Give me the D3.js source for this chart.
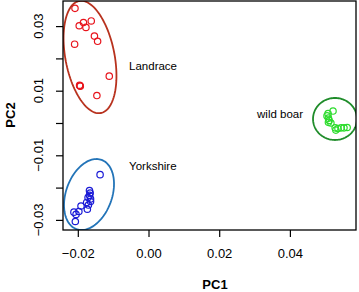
<!DOCTYPE html>
<html>
<head>
<meta charset="utf-8">
<script src="https://cdn.jsdelivr.net/npm/d3@7"></script>
<style>
  body { margin: 0; background: #fff; }
  text { font-family: "Liberation Sans", Arial, sans-serif; }
</style>
</head>
<body>
<div id="chart"></div>
<script>
// PCA coordinates
var landraceX = [-0.0208, -0.0196, -0.0184, -0.0177, -0.0162, -0.0153, -0.0144, -0.0209, -0.0111, -0.0194, -0.0195, -0.0193, -0.0146];
var landraceY = [0.0355, 0.0301, 0.0311, 0.0296, 0.0316, 0.0269, 0.0253, 0.0244, 0.0145, 0.0115, 0.0117, 0.0114, 0.0085];

var yorkshireX = [-0.0137, -0.0167, -0.0165, -0.0167, -0.0171, -0.0164, -0.0164, -0.0175, -0.0170, -0.0173, -0.0191, -0.0197, -0.0211, -0.0205, -0.0207];
var yorkshireY = [-0.0160, -0.0209, -0.0217, -0.0224, -0.0231, -0.0235, -0.0243, -0.0246, -0.0254, -0.0267, -0.0257, -0.0274, -0.0276, -0.0283, -0.0305];

var boarX = [0.0522, 0.0508, 0.0505, 0.0509, 0.0511, 0.0509, 0.0516, 0.0528, 0.0536, 0.0545, 0.0553, 0.0562, 0.0530];
var boarY = [0.0037, 0.0029, 0.0022, 0.0015, 0.0008, 0.0002, 0.0000, -0.0015, -0.0017, -0.0015, -0.0015, -0.0014, -0.0022];

var groupNames = ["Landrace", "Yorkshire", "wild boar"];
// ellipse: centre, then the two half-axis vectors (data units)
var ellipseCentre = [[-0.01655, 0.02043], [-0.01683, -0.02214], [0.05276, 0.00124]];
var ellipseAxisA = [[0.00308, -0.01734], [0.00356, 0.01071], [0.00622, 0]];
var ellipseAxisB = [[0.00682, 0.00146], [0.00611, -0.00245], [0, 0.0065]];
var labelPos = [[-0.0055, 0.0163], [-0.0055, -0.0146], [0.0307, 0.0017]];

var xTicks = [-0.02, 0.00, 0.02, 0.04];
var yTicks = [-0.03, -0.02, -0.01, 0.00, 0.01, 0.02, 0.03];
var yTickLabels = [-0.03, -0.01, 0.01, 0.03];

var pointColors = ["#e8141c", "#1a1ad6", "#2ddc2d"];
var ellipseColors = ["#b8321e", "#2374b8", "#1f8c2a"];

var width = 359, height = 292;
var margin = {top: 1, right: 3, bottom: 62, left: 63};

var svg = d3.select("#chart")
    .append("svg")
    .attr("width", width)
    .attr("height", height);

var x = d3.scaleLinear()
    .domain([-0.02419, 0.0587])
    .range([margin.left, width - margin.right]);

var y = d3.scaleLinear()
    .domain([-0.03313, 0.03777])
    .range([height - margin.bottom, margin.top]);

svg.append("clipPath")
    .attr("id", "plotclip")
    .append("rect")
    .attr("x", margin.left)
    .attr("y", margin.top)
    .attr("width", width - margin.right - margin.left)
    .attr("height", height - margin.bottom - margin.top);

var groups = [
    {xs: landraceX, ys: landraceY},
    {xs: yorkshireX, ys: yorkshireY},
    {xs: boarX, ys: boarY}
];

var plot = svg.append("g").attr("clip-path", "url(#plotclip)");

var line = d3.line()
    .x(function (d) { return x(d[0]); })
    .y(function (d) { return y(d[1]); })
    .curve(d3.curveLinearClosed);

groups.forEach(function (g, i) {
    // points
    plot.append("g")
        .selectAll("circle")
        .data(d3.range(g.xs.length))
        .enter()
        .append("circle")
        .attr("cx", function (k) { return x(g.xs[k]); })
        .attr("cy", function (k) { return y(g.ys[k]); })
        .attr("r", 3.2)
        .attr("fill", "none")
        .attr("stroke", pointColors[i])
        .attr("stroke-width", 1.2);

    // confidence ellipse
    var c = ellipseCentre[i], a = ellipseAxisA[i], b = ellipseAxisB[i];
    var pts = d3.range(120).map(function (k) {
        var t = k / 120 * 2 * Math.PI;
        return [c[0] + Math.cos(t) * a[0] + Math.sin(t) * b[0],
                c[1] + Math.cos(t) * a[1] + Math.sin(t) * b[1]];
    });
    plot.append("path")
        .attr("d", line(pts))
        .attr("fill", "none")
        .attr("stroke", ellipseColors[i])
        .attr("stroke-width", 1.8);

    svg.append("text")
        .attr("x", x(labelPos[i][0]))
        .attr("y", y(labelPos[i][1]))
        .style("font-size", "11.5px")
        .text(groupNames[i]);
});

// box
svg.append("rect")
    .attr("x", margin.left)
    .attr("y", margin.top)
    .attr("width", width - margin.right - margin.left)
    .attr("height", height - margin.bottom - margin.top)
    .attr("fill", "none")
    .attr("stroke", "#000")
    .attr("stroke-width", 1.3);

// x axis
var xAxis = svg.append("g")
    .attr("transform", "translate(0," + (height - margin.bottom) + ")")
    .call(d3.axisBottom(x).tickValues(xTicks).tickSize(7).tickPadding(12)
        .tickFormat(d3.format(".2f")));
xAxis.select(".domain").remove();
xAxis.selectAll("line").attr("stroke-width", 1.2);
xAxis.selectAll("text")
    .style("font-size", "13px")
    .style("font-family", "'Liberation Sans', Arial, sans-serif")
    .attr("fill", "#000");

// y axis
var yAxis = svg.append("g")
    .attr("transform", "translate(" + margin.left + ",0)")
    .call(d3.axisLeft(y).tickValues(yTicks).tickSize(7).tickFormat(""));
yAxis.select(".domain").remove();
yAxis.selectAll("line").attr("stroke-width", 1.2);

svg.append("g")
    .selectAll("text")
    .data(yTickLabels)
    .enter()
    .append("text")
    .attr("transform", function (d) {
        return "translate(43," + y(d) + ") rotate(-90)";
    })
    .attr("text-anchor", "middle")
    .style("font-size", "13px")
    .text(function (d) { return d3.format(".2f")(d); });

svg.append("text")
    .attr("x", 215)
    .attr("y", 289)
    .attr("text-anchor", "middle")
    .style("font-size", "13px")
    .style("font-weight", "bold")
    .text("PC1");

svg.append("text")
    .attr("transform", "translate(15," + 115 + ") rotate(-90)")
    .attr("text-anchor", "middle")
    .style("font-size", "13px")
    .style("font-weight", "bold")
    .text("PC2");
</script>
</body>
</html>
